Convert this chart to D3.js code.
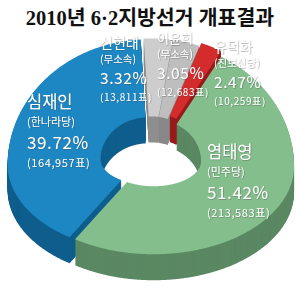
<!DOCTYPE html>
<html>
<head>
<meta charset="utf-8">
<script src="https://cdn.jsdelivr.net/npm/d3@7"></script>
<style>
  body { margin: 0; background: #fff; }
  svg { display: block; }
</style>
</head>
<body>
<div id="chart"></div>
<script>
// data
const names = ["신현태", "이윤희", "유덕화", "염태영", "심재인"];
const parties = ["(무소속)", "(무소속)", "(진보신당)", "(민주당)", "(한나라당)"];
const shares = [3.32, 3.05, 2.47, 51.42, 39.72];
const votes = [13811, 12683, 10259, 213583, 164957];

const topColors = ["#cdcdcd", "#bebebe", "#d42c2c", "#84be8c", "#1d87c4"];
const sideColors = ["#8e8e8e", "#888888", "#971b1b", "#5a8862", "#0f5e8d"];
const explode = [2, 2, 6, 3, 3];

// label anchor (x, name baseline) and font sizes
const labelPos = [[100, 48], [157, 43], [214, 52], [207, 158], [27, 108]];
const nameSize = [14, 13, 14, 16.5, 16.5];

const width = 300, height = 289;
const depth = 26;
const cx = 151;
// the projected rings: widest row, half-heights above / below it
const outerRing = {rx: 140.5, cy: 165, up: 125, down: 88};
const innerRing = {rx: 47.5, cy: 160, up: 42, down: 25};

const svg = d3.select("#chart").append("svg")
    .attr("width", width)
    .attr("height", height);

const defs = svg.append("defs");
defs.append("filter")
    .attr("id", "shadow")
    .attr("x", "-20%").attr("y", "-20%")
    .attr("width", "140%").attr("height", "140%")
    .append("feDropShadow")
    .attr("dx", 0.6).attr("dy", 0.6)
    .attr("stdDeviation", 0.7)
    .attr("flood-color", "#444")
    .attr("flood-opacity", 0.55);

// title
svg.append("text")
    .attr("x", width / 2)
    .attr("y", 25)
    .attr("text-anchor", "middle")
    .style("font-family", "'Liberation Serif', 'Noto Sans CJK KR', serif")
    .style("font-weight", "bold")
    .style("font-size", "20.5px")
    .style("fill", "#111")
    .text("2010년 6·2지방선거 개표결과");

const startAngle = -3 * Math.PI / 180;
const pie = d3.pie()
    .sort(null)
    .startAngle(startAngle)
    .endAngle(startAngle + 2 * Math.PI);
const arcs = pie(shares);

function proj(ring, th) {
    const s = Math.sin(th), c = Math.cos(th);
    return [cx + ring.rx * s, ring.cy - (c > 0 ? ring.up : ring.down) * c];
}

function slicePoints(a) {
    const steps = Math.max(4, Math.ceil((a.endAngle - a.startAngle) / 0.01));
    const t = d3.scaleLinear().domain([0, steps]).range([a.startAngle, a.endAngle]);
    const pts = [];
    for (let i = 0; i <= steps; i++) pts.push(proj(outerRing, t(i)));
    for (let i = steps; i >= 0; i--) pts.push(proj(innerRing, t(i)));
    return pts;
}

const line = d3.line().curve(d3.curveLinearClosed);

const slices = arcs.map((a, i) => {
    const mid = (a.startAngle + a.endAngle) / 2;
    const dx = explode[i] * Math.sin(mid);
    const dy = -explode[i] * Math.cos(mid) * 0.8;
    return {i: i, d: line(slicePoints(a)), dx: dx, dy: dy};
});

const donut = svg.append("g");

// side walls: the slice face stacked downwards
for (let k = depth; k >= 1; k--) {
    donut.append("g")
        .selectAll("path")
        .data(slices)
        .join("path")
        .attr("d", d => d.d)
        .attr("transform", d => `translate(${d.dx},${d.dy + k})`)
        .attr("fill", d => sideColors[d.i]);
}

// top faces
donut.append("g")
    .selectAll("path")
    .data(slices)
    .join("path")
    .attr("d", d => d.d)
    .attr("transform", d => `translate(${d.dx},${d.dy})`)
    .attr("fill", d => topColors[d.i]);

// labels
const fmt = d3.format(",");
const labels = svg.append("g")
    .style("font-family", "'Noto Sans CJK KR', sans-serif")
    .style("fill", "#fff")
    .attr("filter", "url(#shadow)");

names.forEach((n, i) => {
    const [x, y] = labelPos[i];
    const big = i >= 3;
    const g = labels.append("g").attr("transform", `translate(${x},${y})`);
    g.append("text").attr("y", 0)
        .style("font-size", nameSize[i] + "px")
        .text(n);
    g.append("text").attr("y", big ? 18 : 15)
        .style("font-size", big ? "11px" : "10.5px")
        .text(parties[i]);
    g.append("text").attr("y", big ? 41 : 36)
        .style("font-size", big ? "17px" : "15.5px")
        .style("letter-spacing", "0.6px")
        .text(shares[i].toFixed(2) + "%");
    g.append("text").attr("y", big ? 59 : 53)
        .style("font-size", big ? "11px" : "10px")
        .style("letter-spacing", "0.6px")
        .text("(" + fmt(votes[i]) + "표)");
});
</script>
</body>
</html>
